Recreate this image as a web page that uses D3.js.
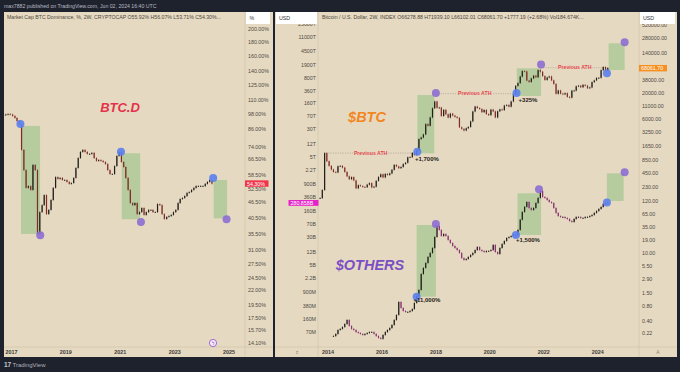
<!DOCTYPE html>
<meta charset="utf-8">
<head>
<script src="https://d3js.org/d3.v7.min.js"></script>
<style>
  body { margin: 0; background: #1e222d; }
  text { font-family: "Liberation Sans", Arial, sans-serif; }
</style>
</head>
<body>
<svg id="chart" width="680" height="372"></svg>
<script>

// ---------- data ----------
// BTC dominance, monthly closes in %, Sep 2016 .. May 2024
const domStart = new Date(2016, 8, 1);
const domClose = [
  97.0, 97.4, 97.8, 97.4,
  96.2, 94.6, 92.2, 89.9, 72.2, 60.9, 52.4, 53.2, 51.5, 63.6, 60.9, 35.5,
  42.7, 45.3, 49.3, 42.0, 43.5, 47.3, 52.4, 57.4, 56.5, 57.0, 56.0, 56.0,
  55.1, 54.2, 54.6, 57.0, 62.0, 67.4, 71.0, 72.2, 71.0, 69.8, 69.8, 70.4,
  67.4, 65.8, 66.3, 65.8, 65.2, 64.1, 60.9, 58.9, 58.9, 63.0, 68.6, 71.0,
  65.2, 62.5, 57.0, 51.5, 46.1, 45.3, 46.1, 42.0, 42.7, 44.2, 41.7, 42.7,
  43.5, 43.5, 42.7, 42.7, 45.7, 45.3, 42.0, 40.3, 41.0, 41.3, 41.7, 42.7,
  43.5, 46.1, 47.7, 48.1, 48.9, 50.2, 50.6, 51.5, 52.4, 53.2, 53.2, 53.2,
  53.2, 54.2, 55.1, 56.0, 54.3
];

// BTC / USD, monthly closes, Sep 2013 .. May 2024
const btcStart = new Date(2013, 8, 1);
const btcClose = [
  138, 203, 1180, 800,
  640, 540, 480, 470, 630, 640, 590, 480, 390, 340, 375, 320,
  220, 255, 245, 235, 232, 262, 282, 230, 238, 314, 378, 430,
  370, 437, 416, 448, 532, 672, 624, 575, 608, 700, 745, 965,
  970, 1190, 1080, 1350, 2300, 2480, 2870, 4700, 4340, 6450, 10000, 13800,
  10200, 10300, 6900, 9250, 7500, 6400, 7730, 7030, 6620, 6320, 4040, 3740,
  3460, 3850, 4100, 5350, 8560, 10820, 10080, 9630, 8300, 9200, 7560, 7200,
  9350, 8600, 6440, 8650, 9460, 9140, 11350, 11660, 10780, 13800, 19700, 29000,
  33100, 45200, 58800, 57700, 37300, 35000, 41500, 47100, 43800, 61300, 57000, 46300,
  38500, 43200, 45500, 37700, 31800, 19900, 23300, 20050, 19400, 20500, 17150, 16550,
  23100, 23150, 28450, 29250, 27200, 30450, 29250, 25950, 26950, 34650, 37700, 42300,
  42600, 61200, 71300, 60600, 68061.7
];

// OTHERS market cap in billions USD, monthly closes, Mar 2014 .. May 2024
const othStart = new Date(2014, 2, 1);
const othClose = [
  0.055, 0.063, 0.081, 0.087, 0.098, 0.119, 0.154, 0.105, 0.087, 0.081,
  0.071, 0.067, 0.063, 0.059, 0.063, 0.067, 0.071, 0.071, 0.063, 0.055, 0.049, 0.046,
  0.059, 0.071, 0.081, 0.092, 0.112, 0.154, 0.212, 0.487, 0.332, 0.274, 0.257, 0.257,
  0.274, 0.311, 0.457, 0.714, 1.05, 2.92, 4.29, 5.91, 8.68, 11.2, 15.4, 31.1,
  62.9, 48.8, 33.2, 37.7, 33.2, 25.7, 21.2, 17.5, 15.4, 13.5, 11.2, 8.1,
  7.16, 7.63, 8.68, 9.85, 11.2, 13.5, 16.4, 13.5, 12.7, 11.9, 12.7, 12.7,
  13.5, 18.7, 11.9, 10.5, 15.4, 19.9, 24.1, 29.2, 31.1, 33.2, 35.4, 35.4,
  48.8, 93.9, 154.6, 214, 292, 199, 175, 199, 274, 378, 591, 403,
  378, 332, 292, 274, 199, 145, 119, 112, 112, 105, 98.6, 86.8,
  81.4, 98.6, 112, 112, 105, 105, 112, 112, 119, 127, 145, 164,
  187, 212, 257, 274, 280.858
];

// axis ticks
const domTicks = [200, 180, 160, 140, 125, 110, 98, 86, 74, 66.5, 58.5, 52.5, 46.5, 40.5,
                  35.5, 31, 27.5, 24.5, 22, 19.5, 17.5, 15.7, 14.1];
const btcTicks = [520000, 280000, 140000, 38000, 20000, 11000, 6000, 3250, 1650, 850,
                  450, 230, 120, 65, 35, 19, 10, 5.5, 2.9, 1.5, 0.8, 0.4, 0.22];
const othTicks = [25e6, 11e6, 4.5e6, 1.9e6, 8e5, 3.6e5, 1.6e5, 7e4, 3e4, 1.2e4, 5000, 2200,
                  900, 360, 160, 70, 30, 12, 5, 2.2, 0.9, 0.38, 0.16, 0.07];
const othTickLabels = ["25000T", "11000T", "4500T", "1900T", "800T", "360T", "160T", "70T",
                       "30T", "12T", "5T", "2.2T", "900B", "360B", "160B", "70B", "30B",
                       "12B", "5B", "2.2B", "900M", "380M", "160M", "70M"];
const leftYears = [2017, 2019, 2021, 2023, 2025];
const rightYears = [2014, 2016, 2018, 2020, 2022, 2024];

// highlighted moves: [startDate, endDate, low, high]
const domBoxes = [
  [new Date(2017, 4, 8), new Date(2018, 0, 20), 35.5, 88.4],
  [new Date(2021, 0, 20), new Date(2021, 8, 25), 40.2, 70.2],
  [new Date(2024, 5, 8), new Date(2024, 11, 5), 40.5, 56.0]
];
const domDots = [
  [new Date(2017, 4, 1), 89.9, "blue"], [new Date(2018, 0, 22), 35.1, "purple"],
  [new Date(2021, 0, 10), 71.1, "blue"], [new Date(2021, 9, 5), 39.3, "purple"],
  [new Date(2024, 5, 1), 57.0, "blue"], [new Date(2024, 10, 28), 40.2, "purple"]
];
const btcBoxes = [
  [new Date(2017, 3, 25), new Date(2017, 11, 10), 1166, 18760],
  [new Date(2021, 0, 1), new Date(2021, 10, 25), 17890, 67000],
  [new Date(2024, 4, 28), new Date(2024, 11, 31), 61800, 220700]
];
const btcDots = [
  [new Date(2017, 3, 25), 1258, "blue"], [new Date(2018, 0, 1), 20660, "purple"],
  [new Date(2020, 11, 28), 20660, "blue"], [new Date(2021, 10, 25), 80000, "purple"],
  [new Date(2024, 4, 5), 52800, "blue"], [new Date(2024, 11, 31), 231400, "purple"]
];
const othBoxes = [
  [new Date(2017, 3, 15), new Date(2018, 0, 1), 0.683, 67.1],
  [new Date(2021, 0, 10), new Date(2021, 10, 25), 35.4, 510],
  [new Date(2024, 4, 5), new Date(2024, 11, 18), 311.6, 1834]
];
const othDots = [
  [new Date(2017, 3, 15), 0.683, "blue"], [new Date(2018, 0, 1), 71.4, "purple"],
  [new Date(2020, 11, 20), 35.4, "blue"], [new Date(2021, 9, 28), 659, "purple"],
  [new Date(2024, 4, 5), 281, "blue"], [new Date(2024, 11, 31), 1955, "purple"]
];
// previous ATH lines: [from, to, price, label date]
const athLines = [
  [new Date(2013, 11, 1), new Date(2017, 3, 20), 1180, new Date(2015, 7, 1)],
  [new Date(2017, 11, 28), new Date(2020, 11, 25), 20000, new Date(2019, 5, 10)],
  [new Date(2021, 10, 20), new Date(2024, 3, 10), 69000, new Date(2023, 1, 25)]
];
// gains: [date, value, text, which scale]
const gains = [
  [new Date(2017, 8, 1), 870, "+1,700%", "btc"],
  [new Date(2021, 5, 1), 15000, "+325%", "btc"],
  [new Date(2021, 5, 1), 25.5, "+1,500%", "oth"],
  [new Date(2017, 8, 1), 0.55, "+11,000%", "oth"]
];

// ---------- layout ----------
const BG = "#1e222d", PANEL = "#e6d9c1", LINE = "#d3c6ad", AXIS_TXT = "#4d4a44";
const UP = "#221e1a", DOWN = "#7e2c25", OTH_DOWN = "#8a2f72";
const BLUE = "#5a80ee", PURPLE = "#8c6dd0";

const svg = d3.select("#chart");
svg.append("rect").attr("width", 680).attr("height", 372).attr("fill", BG);

svg.append("text").attr("x", 4).attr("y", 7.5)
  .attr("font-size", 5.2).attr("fill", "#b8bbc4")
  .text("max7882 published on TradingView.com, Jun 02, 2024 16:40 UTC");

// footer logo
svg.append("text").attr("x", 4).attr("y", 366.5)
  .attr("font-size", 6.5).attr("font-weight", "bold").attr("fill", "#c5c8d0").text("17");
svg.append("text").attr("x", 12.5).attr("y", 366.5)
  .attr("font-size", 6).attr("fill", "#aeb1ba").text("TradingView");

// panels
svg.append("rect").attr("x", 4).attr("y", 12).attr("width", 269).attr("height", 345).attr("fill", PANEL);
svg.append("rect").attr("x", 275).attr("y", 12).attr("width", 402).attr("height", 345).attr("fill", PANEL);

function vline(x, y0, y1) {
  svg.append("line").attr("x1", x).attr("x2", x).attr("y1", y0).attr("y2", y1)
    .attr("stroke", LINE).attr("stroke-width", 0.8);
}
function hline(y, x0, x1) {
  svg.append("line").attr("x1", x0).attr("x2", x1).attr("y1", y).attr("y2", y)
    .attr("stroke", LINE).attr("stroke-width", 0.8);
}
vline(245, 12, 357); hline(347, 4, 273);
vline(318, 12, 357); vline(639, 12, 357); hline(347, 275, 677);

// scales
const xL = d3.scaleTime().domain([new Date(2017, 0, 1), new Date(2025, 0, 1)]).range([11.5, 11.5 + 8 * 27.2]);
const xR = d3.scaleTime().domain([new Date(2014, 0, 1), new Date(2024, 0, 1)]).range([328, 328 + 10 * 26.97]);
const yDom = d3.scaleLog().domain([200, 14.1]).range([29.3, 343.3]);
const yBtc = d3.scaleLog().domain([280000, 0.22]).range([38.3, 333.3]);
const yOth = d3.scaleLog().domain([11e6, 0.07]).range([37.3, 332.3]);

// clip areas
const defs = svg.append("defs");
defs.append("clipPath").attr("id", "clipL").append("rect")
  .attr("x", 4).attr("y", 24).attr("width", 241).attr("height", 323);
defs.append("clipPath").attr("id", "clipR").append("rect")
  .attr("x", 318).attr("y", 24).attr("width", 321).attr("height", 323);

const gL = svg.append("g").attr("clip-path", "url(#clipL)");
const gR = svg.append("g").attr("clip-path", "url(#clipR)");

function monthDates(start, n) {
  return d3.range(n).map(i => d3.timeDay.offset(d3.timeMonth.offset(start, i), 15));
}

function boxes(g, list, x, y) {
  g.append("g").selectAll("rect").data(list).join("rect")
    .attr("x", d => x(d[0])).attr("width", d => x(d[1]) - x(d[0]))
    .attr("y", d => y(d[3])).attr("height", d => y(d[2]) - y(d[3]))
    .attr("fill", "#4caf50").attr("fill-opacity", 0.3);
}

function candles(g, dates, closes, x, y, upC, downC) {
  const w = 1.2;
  const c = closes.map((v, i) => ({ d: dates[i], o: i ? closes[i - 1] : v, c: v }));
  const cg = g.append("g");
  cg.selectAll("line").data(c).join("line")
    .attr("x1", d => x(d.d)).attr("x2", d => x(d.d))
    .attr("y1", d => y(Math.max(d.o, d.c)) - 0.8).attr("y2", d => y(Math.min(d.o, d.c)) + 0.8)
    .attr("stroke", d => d.c >= d.o ? upC : downC).attr("stroke-width", 0.5);
  cg.selectAll("rect").data(c).join("rect")
    .attr("x", d => x(d.d) - w / 2).attr("width", w)
    .attr("y", d => y(Math.max(d.o, d.c)))
    .attr("height", d => Math.max(0.8, Math.abs(y(d.o) - y(d.c))))
    .attr("fill", d => d.c >= d.o ? upC : downC);
}

function dots(g, list, x, y) {
  g.append("g").selectAll("circle").data(list).join("circle")
    .attr("cx", d => x(d[0])).attr("cy", d => y(d[1])).attr("r", 4)
    .attr("fill", d => d[2] === "blue" ? BLUE : PURPLE).attr("fill-opacity", 0.9);
}

// ---------- left panel: BTC.D ----------
boxes(gL, domBoxes, xL, yDom);
candles(gL, monthDates(domStart, domClose.length), domClose, xL, yDom, UP, DOWN);
dots(gL, domDots, xL, yDom);

svg.append("text").attr("x", 120).attr("y", 111.5).attr("text-anchor", "middle")
  .attr("font-size", 13).attr("font-weight", "bold").attr("font-style", "italic")
  .attr("fill", "#e3324b").text("BTC.D");

// small icon
svg.append("circle").attr("cx", 213).attr("cy", 343).attr("r", 3.6)
  .attr("fill", "#f4eefa").attr("stroke", "#9a5bd0").attr("stroke-width", 0.9);
svg.append("text").attr("x", 213).attr("y", 345).attr("text-anchor", "middle")
  .attr("font-size", 5).attr("fill", "#9a5bd0").text("ϟ");

// left axis labels (52.50% peeks out under the price label)
svg.append("g").selectAll("text").data(domTicks).join("text")
  .attr("x", 248).attr("y", d => yDom(d) + 1.8 + (d === 52.5 ? 1.6 : 0))
  .attr("font-size", 5.3).attr("fill", AXIS_TXT)
  .text(d => d.toFixed(2) + "%");

svg.append("rect").attr("x", 245).attr("y", yDom(54.3) - 3.3).attr("width", 23.5).attr("height", 6.4)
  .attr("fill", "#f0344a");
svg.append("text").attr("x", 247).attr("y", yDom(54.3) + 1.9)
  .attr("font-size", 5.3).attr("fill", "#ffffff").text("54.30%");

svg.append("g").selectAll("text").data(leftYears).join("text")
  .attr("x", d => xL(new Date(d, 0, 1))).attr("y", 353.8).attr("text-anchor", "middle")
  .attr("font-size", 5.4).attr("font-weight", "bold").attr("fill", "#3d3a35")
  .text(d => d);

svg.append("rect").attr("x", 246).attr("y", 12).attr("width", 24).attr("height", 12).attr("fill", "#ffffff");
svg.append("text").attr("x", 249.5).attr("y", 19.5).attr("font-size", 5.3).attr("fill", "#333").text("%");
svg.append("text").attr("x", 7).attr("y", 18.8).attr("font-size", 5.2).attr("fill", "#4a4740")
  .text("Market Cap BTC Dominance, %, 2W, CRYPTOCAP  O55.92%  H56.07%  L53.71%  C54.30%...");

// ---------- right panel: BTC + OTHERS ----------
boxes(gR, btcBoxes, xR, yBtc);
boxes(gR, othBoxes, xR, yOth);

const athG = gR.append("g");
athG.selectAll("line").data(athLines).join("line")
  .attr("x1", d => xR(d[0])).attr("x2", d => xR(d[1]))
  .attr("y1", d => yBtc(d[2])).attr("y2", d => yBtc(d[2]))
  .attr("stroke", "#9c978d").attr("stroke-width", 0.6).attr("stroke-dasharray", "1.2,1.2");
athG.selectAll("rect").data(athLines).join("rect")
  .attr("x", d => xR(d[3]) - 17).attr("y", d => yBtc(d[2]) - 3).attr("width", 34).attr("height", 6)
  .attr("fill", PANEL);
athG.selectAll("text").data(athLines).join("text")
  .attr("x", d => xR(d[3])).attr("y", d => yBtc(d[2]) + 1.8).attr("text-anchor", "middle")
  .attr("font-size", 5.2).attr("font-weight", "bold").attr("fill", "#e2454f")
  .text("Previous ATH");

candles(gR, monthDates(btcStart, btcClose.length), btcClose, xR, yBtc, UP, DOWN);
candles(gR, monthDates(othStart, othClose.length), othClose, xR, yOth, UP, OTH_DOWN);
dots(gR, btcDots, xR, yBtc);
dots(gR, othDots, xR, yOth);

gR.append("g").selectAll("text").data(gains).join("text")
  .attr("x", d => xR(d[0])).attr("y", d => (d[3] === "btc" ? yBtc(d[1]) : yOth(d[1])) + 2)
  .attr("text-anchor", "middle").attr("font-size", 6).attr("font-weight", "bold").attr("fill", "#1f1c18")
  .text(d => d[2]);

svg.append("text").attr("x", 367).attr("y", 121.5).attr("text-anchor", "middle")
  .attr("font-size", 14.5).attr("font-weight", "bold").attr("font-style", "italic")
  .attr("fill", "#f2861f").text("$BTC");
svg.append("text").attr("x", 370).attr("y", 269.5).attr("text-anchor", "middle")
  .attr("font-size", 14.5).attr("font-weight", "bold").attr("font-style", "italic")
  .attr("fill", "#7a4fc6").text("$OTHERS");

// right price axis (BTC)
svg.append("g").selectAll("text").data(btcTicks).join("text")
  .attr("x", 642).attr("y", d => yBtc(d) + 1.8)
  .attr("font-size", 5.3).attr("fill", AXIS_TXT)
  .text(d => d.toFixed(2));
svg.append("rect").attr("x", 639).attr("y", yBtc(68061.7) - 3).attr("width", 28).attr("height", 6.4)
  .attr("fill", "#f68f1e");
svg.append("text").attr("x", 641).attr("y", yBtc(68061.7) + 2)
  .attr("font-size", 5.3).attr("fill", "#ffffff").text("68061.70");

// left price axis (OTHERS), 360B peeks out above the price label
svg.append("g").selectAll("text").data(othTicks).join("text")
  .attr("x", 316).attr("y", d => yOth(d) + 1.8 - (d === 360 ? 1.6 : 0)).attr("text-anchor", "end")
  .attr("font-size", 5.3).attr("fill", AXIS_TXT)
  .text((d, i) => othTickLabels[i]);
svg.append("rect").attr("x", 288.5).attr("y", yOth(280.858) - 2.6).attr("width", 30).attr("height", 5.8)
  .attr("fill", "#e524c8");
svg.append("text").attr("x", 290.5).attr("y", yOth(280.858) + 1.9)
  .attr("font-size", 5.3).attr("fill", "#ffffff").text("280.858B");

svg.append("g").selectAll("text").data(rightYears).join("text")
  .attr("x", d => xR(new Date(d, 0, 1))).attr("y", 353.8).attr("text-anchor", "middle")
  .attr("font-size", 5.4).attr("font-weight", "bold").attr("fill", "#3d3a35")
  .text(d => d);
svg.append("text").attr("x", 297).attr("y", 353.5).attr("text-anchor", "middle")
  .attr("font-size", 5).attr("fill", "#8a857c").text("z");
svg.append("text").attr("x", 658).attr("y", 353.5).attr("text-anchor", "middle")
  .attr("font-size", 5).attr("fill", "#8a857c").text("A");

// header boxes
svg.append("rect").attr("x", 276).attr("y", 12).attr("width", 41).attr("height", 12).attr("fill", "#ffffff");
svg.append("text").attr("x", 279).attr("y", 19.5).attr("font-size", 5.3).attr("fill", "#333").text("USD");
svg.append("rect").attr("x", 640).attr("y", 12).attr("width", 35).attr("height", 12).attr("fill", "#ffffff");
svg.append("text").attr("x", 643).attr("y", 19.5).attr("font-size", 5.3).attr("fill", "#333").text("USD");
svg.append("text").attr("x", 322).attr("y", 18.8).attr("font-size", 5.2).attr("fill", "#4a4740")
  .text("Bitcoin / U.S. Dollar, 2W, INDEX  O66278.88  H71939.10  L66102.01  C68061.70  +1777.19 (+2.68%)  Vol184.674K...");

</script>
</body>
</html>
